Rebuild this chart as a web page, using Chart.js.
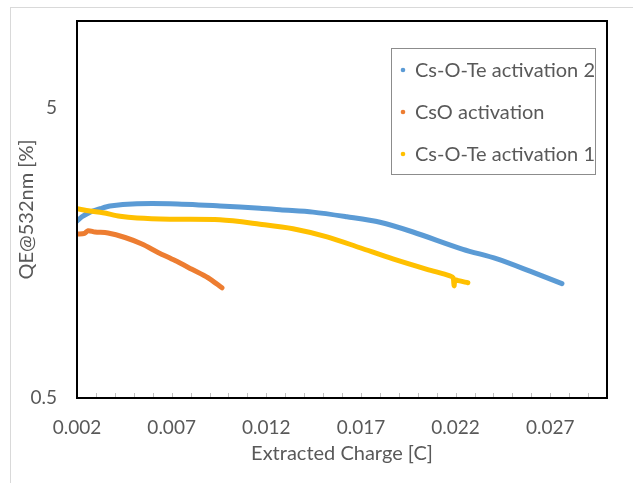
<!DOCTYPE html>
<html>
<head>
<meta charset="utf-8">
<script src="https://cdn.jsdelivr.net/npm/chart.js@4.4.1/dist/chart.umd.min.js"></script>
<style>
  html, body { margin: 0; padding: 0; background: #fff; }
  #wrap { width: 633px; height: 483px; }
</style>
</head>
<body>
<div id="wrap"><canvas id="qe"></canvas></div>
<script>
// Cs-O-Te activation 2
const te2X = [0.0020, 0.00226, 0.00269, 0.00322, 0.00374, 0.00517, 0.00691, 0.00955, 0.01167, 0.01272, 0.01447, 0.01626, 0.01801, 0.01975, 0.02239, 0.02419, 0.02593, 0.02762];
const te2Y = [2.04, 2.11, 2.19, 2.25, 2.30, 2.34, 2.34, 2.30, 2.26, 2.23, 2.19, 2.11, 2.02, 1.87, 1.63, 1.51, 1.37, 1.24];

// CsO activation
const csoX = [0.00200, 0.00240, 0.00258, 0.00295, 0.00364, 0.00454, 0.00543, 0.00628, 0.00718, 0.00807, 0.00892, 0.00966];
const csoY = [1.84, 1.85, 1.89, 1.87, 1.855, 1.79, 1.70, 1.59, 1.49, 1.39, 1.30, 1.20];

// Cs-O-Te activation 1
const te1X = [0.0020, 0.00269, 0.00337, 0.00427, 0.00517, 0.00691, 0.00955, 0.01167, 0.01341, 0.01521, 0.01695, 0.01869, 0.02049, 0.02170, 0.02187, 0.02192, 0.02198, 0.02215, 0.02265];
const te1Y = [2.25, 2.21, 2.18, 2.12, 2.09, 2.07, 2.06, 1.99, 1.92, 1.80, 1.65, 1.51, 1.39, 1.32, 1.30, 1.22, 1.28, 1.27, 1.25];

const seriesNames = ["Cs-O-Te activation 2", "CsO activation", "Cs-O-Te activation 1"];
const seriesColors = ["#5B9BD5", "#ED7D31", "#FFC000"];

const xTickLabels = ["0.002", "0.007", "0.012", "0.017", "0.022", "0.027"];
const yTickValues = [0.5, 5];

const textGray = "#595959";

function toPoints(xs, ys) {
  return xs.map((x, i) => ({ x: x, y: ys[i] }));
}

// outer frame + plot frame + inside minor ticks + boxed legend
const decorations = {
  id: "decorations",
  beforeDraw(chart) {
    const ctx = chart.ctx;
    ctx.save();
    ctx.fillStyle = "#fff";
    ctx.fillRect(0, 0, chart.width, chart.height);
    ctx.strokeStyle = "#d9d9d9";
    ctx.lineWidth = 1;
    ctx.strokeRect(10.5, 7.5, chart.width, chart.height);
    ctx.restore();
  },
  afterDraw(chart) {
    const { ctx, chartArea } = chart;
    const xs = chart.scales.x;
    ctx.save();
    // minor ticks on the x axis, pointing into the plot
    ctx.strokeStyle = "#bfbfbf";
    ctx.lineWidth = 1;
    xs.ticks.forEach(t => {
      const px = Math.round(xs.getPixelForValue(t.value)) + 0.5;
      ctx.beginPath();
      ctx.moveTo(px, chartArea.bottom);
      ctx.lineTo(px, chartArea.bottom - 5);
      ctx.stroke();
    });
    // plot frame
    ctx.strokeStyle = "#000";
    ctx.lineWidth = 2;
    ctx.strokeRect(chartArea.left, chartArea.top, chartArea.right - chartArea.left, chartArea.bottom - chartArea.top);

    // legend
    const w = 204, h = 126;
    const x0 = chartArea.right - 12 - w, y0 = chartArea.top + 27;
    ctx.fillStyle = "#fff";
    ctx.fillRect(x0, y0, w, h);
    ctx.strokeStyle = "#8c8c8c";
    ctx.lineWidth = 1;
    ctx.strokeRect(x0 + 0.5, y0 + 0.5, w, h);
    ctx.font = "20px Lato";
    ctx.textBaseline = "middle";
    chart.data.datasets.forEach((ds, i) => {
      const cy = y0 + 22 + i * 42;
      ctx.beginPath();
      ctx.arc(x0 + 12, cy, 2.3, 0, Math.PI * 2);
      ctx.fillStyle = ds.borderColor;
      ctx.fill();
      ctx.fillStyle = textGray;
      ctx.fillText(ds.label, x0 + 24, cy + 1);
    });
    ctx.restore();
  }
};

const dataSets = [
  toPoints(te2X, te2Y),
  toPoints(csoX, csoY),
  toPoints(te1X, te1Y)
];

new Chart("qe", {
  type: "scatter",
  data: {
    datasets: dataSets.map((pts, i) => ({
      label: seriesNames[i],
      data: pts,
      showLine: true,
      borderColor: seriesColors[i],
      backgroundColor: seriesColors[i],
      borderWidth: 5,
      pointRadius: 0,
      tension: 0.3,
      borderCapStyle: "round",
      borderJoinStyle: "round",
      order: 2 - i
    }))
  },
  options: {
    responsive: true,
    maintainAspectRatio: false,
    animation: false,
    layout: { padding: { top: 21, right: 26, left: 0, bottom: 0 } },
    plugins: {
      legend: { display: false },
      tooltip: { enabled: false }
    },
    scales: {
      x: {
        type: "linear",
        min: 0.002,
        max: 0.030,
        afterBuildTicks: scale => {
          const ticks = [];
          for (let i = 0; i <= 28; i++) ticks.push({ value: +(0.002 + i * 0.001).toFixed(3) });
          scale.ticks = ticks;
        },
        afterFit: scale => { scale.height = 85; scale.paddingLeft = 0; scale.paddingRight = 0; },
        grid: { display: false, drawTicks: false },
        border: { display: false },
        ticks: {
          autoSkip: false,
          maxRotation: 0,
          padding: 18,
          color: textGray,
          font: { family: "Lato", size: 19 },
          callback: value => {
            const lab = xTickLabels.find(t => Math.abs(parseFloat(t) - value) < 1e-7);
            return lab || "";
          }
        },
        title: {
          display: true,
          text: "Extracted Charge [C]",
          color: textGray,
          font: { family: "Lato", size: 20 },
          padding: { top: 0, bottom: 17 }
        }
      },
      y: {
        type: "logarithmic",
        min: 0.5,
        max: 10,
        afterBuildTicks: scale => {
          scale.ticks = yTickValues.map(v => ({ value: v }));
        },
        afterFit: scale => { scale.width = 77; scale.paddingTop = 0; scale.paddingBottom = 0; },
        grid: { display: false, drawTicks: false },
        border: { display: false },
        ticks: {
          autoSkip: false,
          padding: 20,
          color: textGray,
          font: { family: "Lato", size: 19 },
          callback: value => String(value)
        },
        title: {
          display: true,
          text: "QE@532nm [%]",
          color: textGray,
          font: { family: "Lato", size: 20 },
          padding: { top: 15, bottom: 0 }
        }
      }
    }
  },
  plugins: [decorations]
});
</script>
</body>
</html>
